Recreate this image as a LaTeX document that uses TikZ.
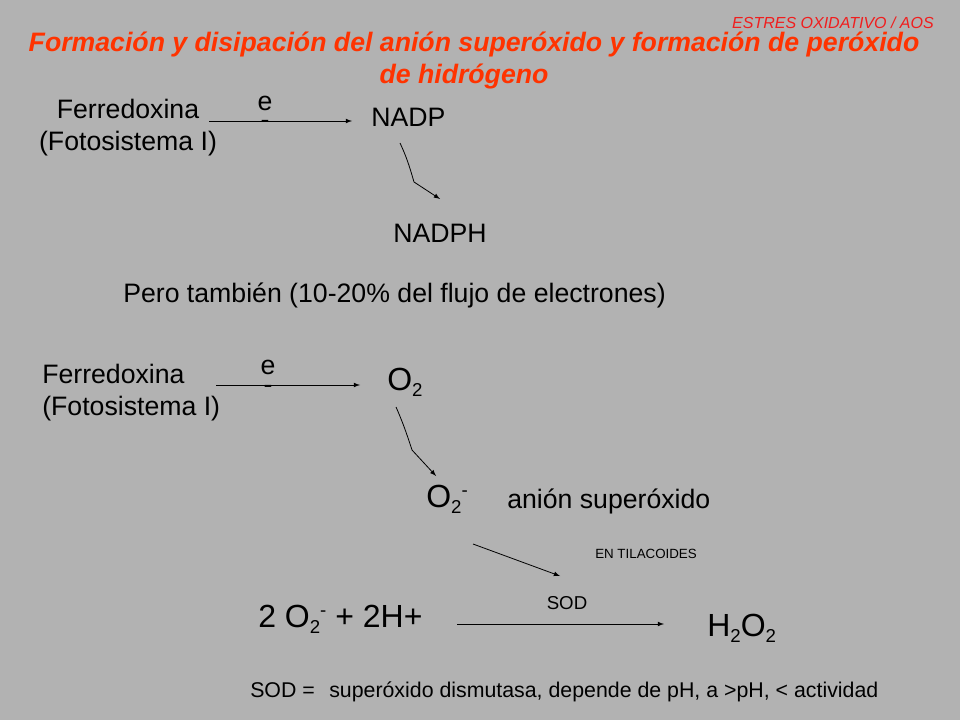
\documentclass[tikz,border=0pt]{standalone}
\usepackage{fontspec}
\setmainfont{Liberation Sans}
\usepackage{tikz}
\usetikzlibrary{positioning}
\usetikzlibrary{arrows}
\usetikzlibrary{calc}
\definecolor{slidegray}{HTML}{B2B2B2}
\definecolor{titlered}{HTML}{FF3300}
\definecolor{tagred}{HTML}{F01E1E}
\newcommand{\chsub}[1]{\raisebox{-5pt}{\fontsize{14}{14}\selectfont #1}}
\newcommand{\chsup}[1]{\raisebox{8pt}{\fontsize{14}{14}\selectfont #1}}

\begin{document}
\begin{tikzpicture}[x=0.75pt, y=-0.75pt, node distance=0.1cm, >=latex,
  txt/.style={inner sep=0pt, font=\fontsize{20}{24}\selectfont, anchor=base west},
  chem/.style={inner sep=0pt, font=\fontsize{24}{28.8}\selectfont, anchor=base west},
  lbl/.style={inner sep=0pt, font=\fontsize{#1}{#1}\selectfont},
  lbl/.default=20,
  elec/.style={inner sep=0pt, font=\fontsize{20}{14}\selectfont, align=center, anchor=base},
  title/.style={inner sep=0pt, font=\fontsize{20}{24}\selectfont\bfseries\itshape, text=titlered, anchor=base},
  flow/.style={->, line width=0.6pt}]

\fill [slidegray] (0,0) rectangle (960,720);

% heading
\node [inner sep=0pt, font=\fontsize{12}{14}\selectfont\itshape, text=tagred, anchor=base east] (tag) at (934,29) {ESTRES OXIDATIVO / AOS};
\node [title] (title1) at (474,52) {Formación y disipación del anión superóxido y formación de peróxido};
\node [title] (title2) at (464,84) {de hidrógeno};

% ferredoxina -> NADP -> NADPH
\node [txt, align=center, anchor=base] (ferr1) at (128,151) {Ferredoxina\\(Fotosistema I)};
\node [txt] (nadp) at (371,127) {NADP};
\node [txt] (nadph) at (393,243) {NADPH};
\coordinate (e1s) at (209,121);
\coordinate (e1t) at (352,121);
\draw [flow] (e1s) -- (e1t);
\node [elec] (e1) at (265,129) {e\\-};
\coordinate (c1a) at (400,143);
\coordinate (c1b) at (414,182);
\coordinate (c1c) at (440,199);
\draw [flow] (c1a) .. controls (408,160) and (411,172) .. (c1b) -- (c1c);

\node [txt] (pero) at (123,302) {Pero también (10-20\% del flujo de electrones)};

% ferredoxina -> O2 -> O2-
\node [txt, align=left, anchor=base west] (ferr2) at (42,415) {Ferredoxina\\(Fotosistema I)};
\node [chem] (oxy) at (387,390) {O\chsub{2}};
\coordinate (e2s) at (216,385);
\coordinate (e2t) at (360,385);
\draw [flow] (e2s) -- (e2t);
\node [elec] (e2) at (268,393) {e\\-};
\coordinate (c2a) at (396,407);
\coordinate (c2b) at (412,450);
\coordinate (c2c) at (436,476);
\draw [flow] (c2a) .. controls (404,425) and (408,438) .. (c2b) -- (c2c);
\node [chem] (superox) at (426,507) {O\chsub{2}\chsup{-}};
\node [txt] (anion) at (507,508) {anión superóxido};

% dismutacion
\coordinate (d1a) at (473,544);
\coordinate (d1b) at (560,576);
\draw [flow] (d1a) -- (d1b);
\node [lbl=10, anchor=base west] (tila) at (595,558) {EN TILACOIDES};
\node [chem] (react) at (258,627) {2 O\chsub{2}\chsup{-} + 2H+};
\node [chem] (perox) at (707,636) {H\chsub{2}O\chsub{2}};
\coordinate (s1a) at (457,624);
\coordinate (s1b) at (664,624);
\draw [flow] (s1a) -- (s1b);
\node [lbl=14, anchor=base] (sod) at (567,609) {SOD};

\node [lbl=16, anchor=base west] (sodeq) at (250,697) {SOD =};
\node [lbl=16, anchor=base west] (sodtxt) at (329,697) {superóxido dismutasa, depende de pH, a >pH, < actividad};

\end{tikzpicture}
\end{document}
